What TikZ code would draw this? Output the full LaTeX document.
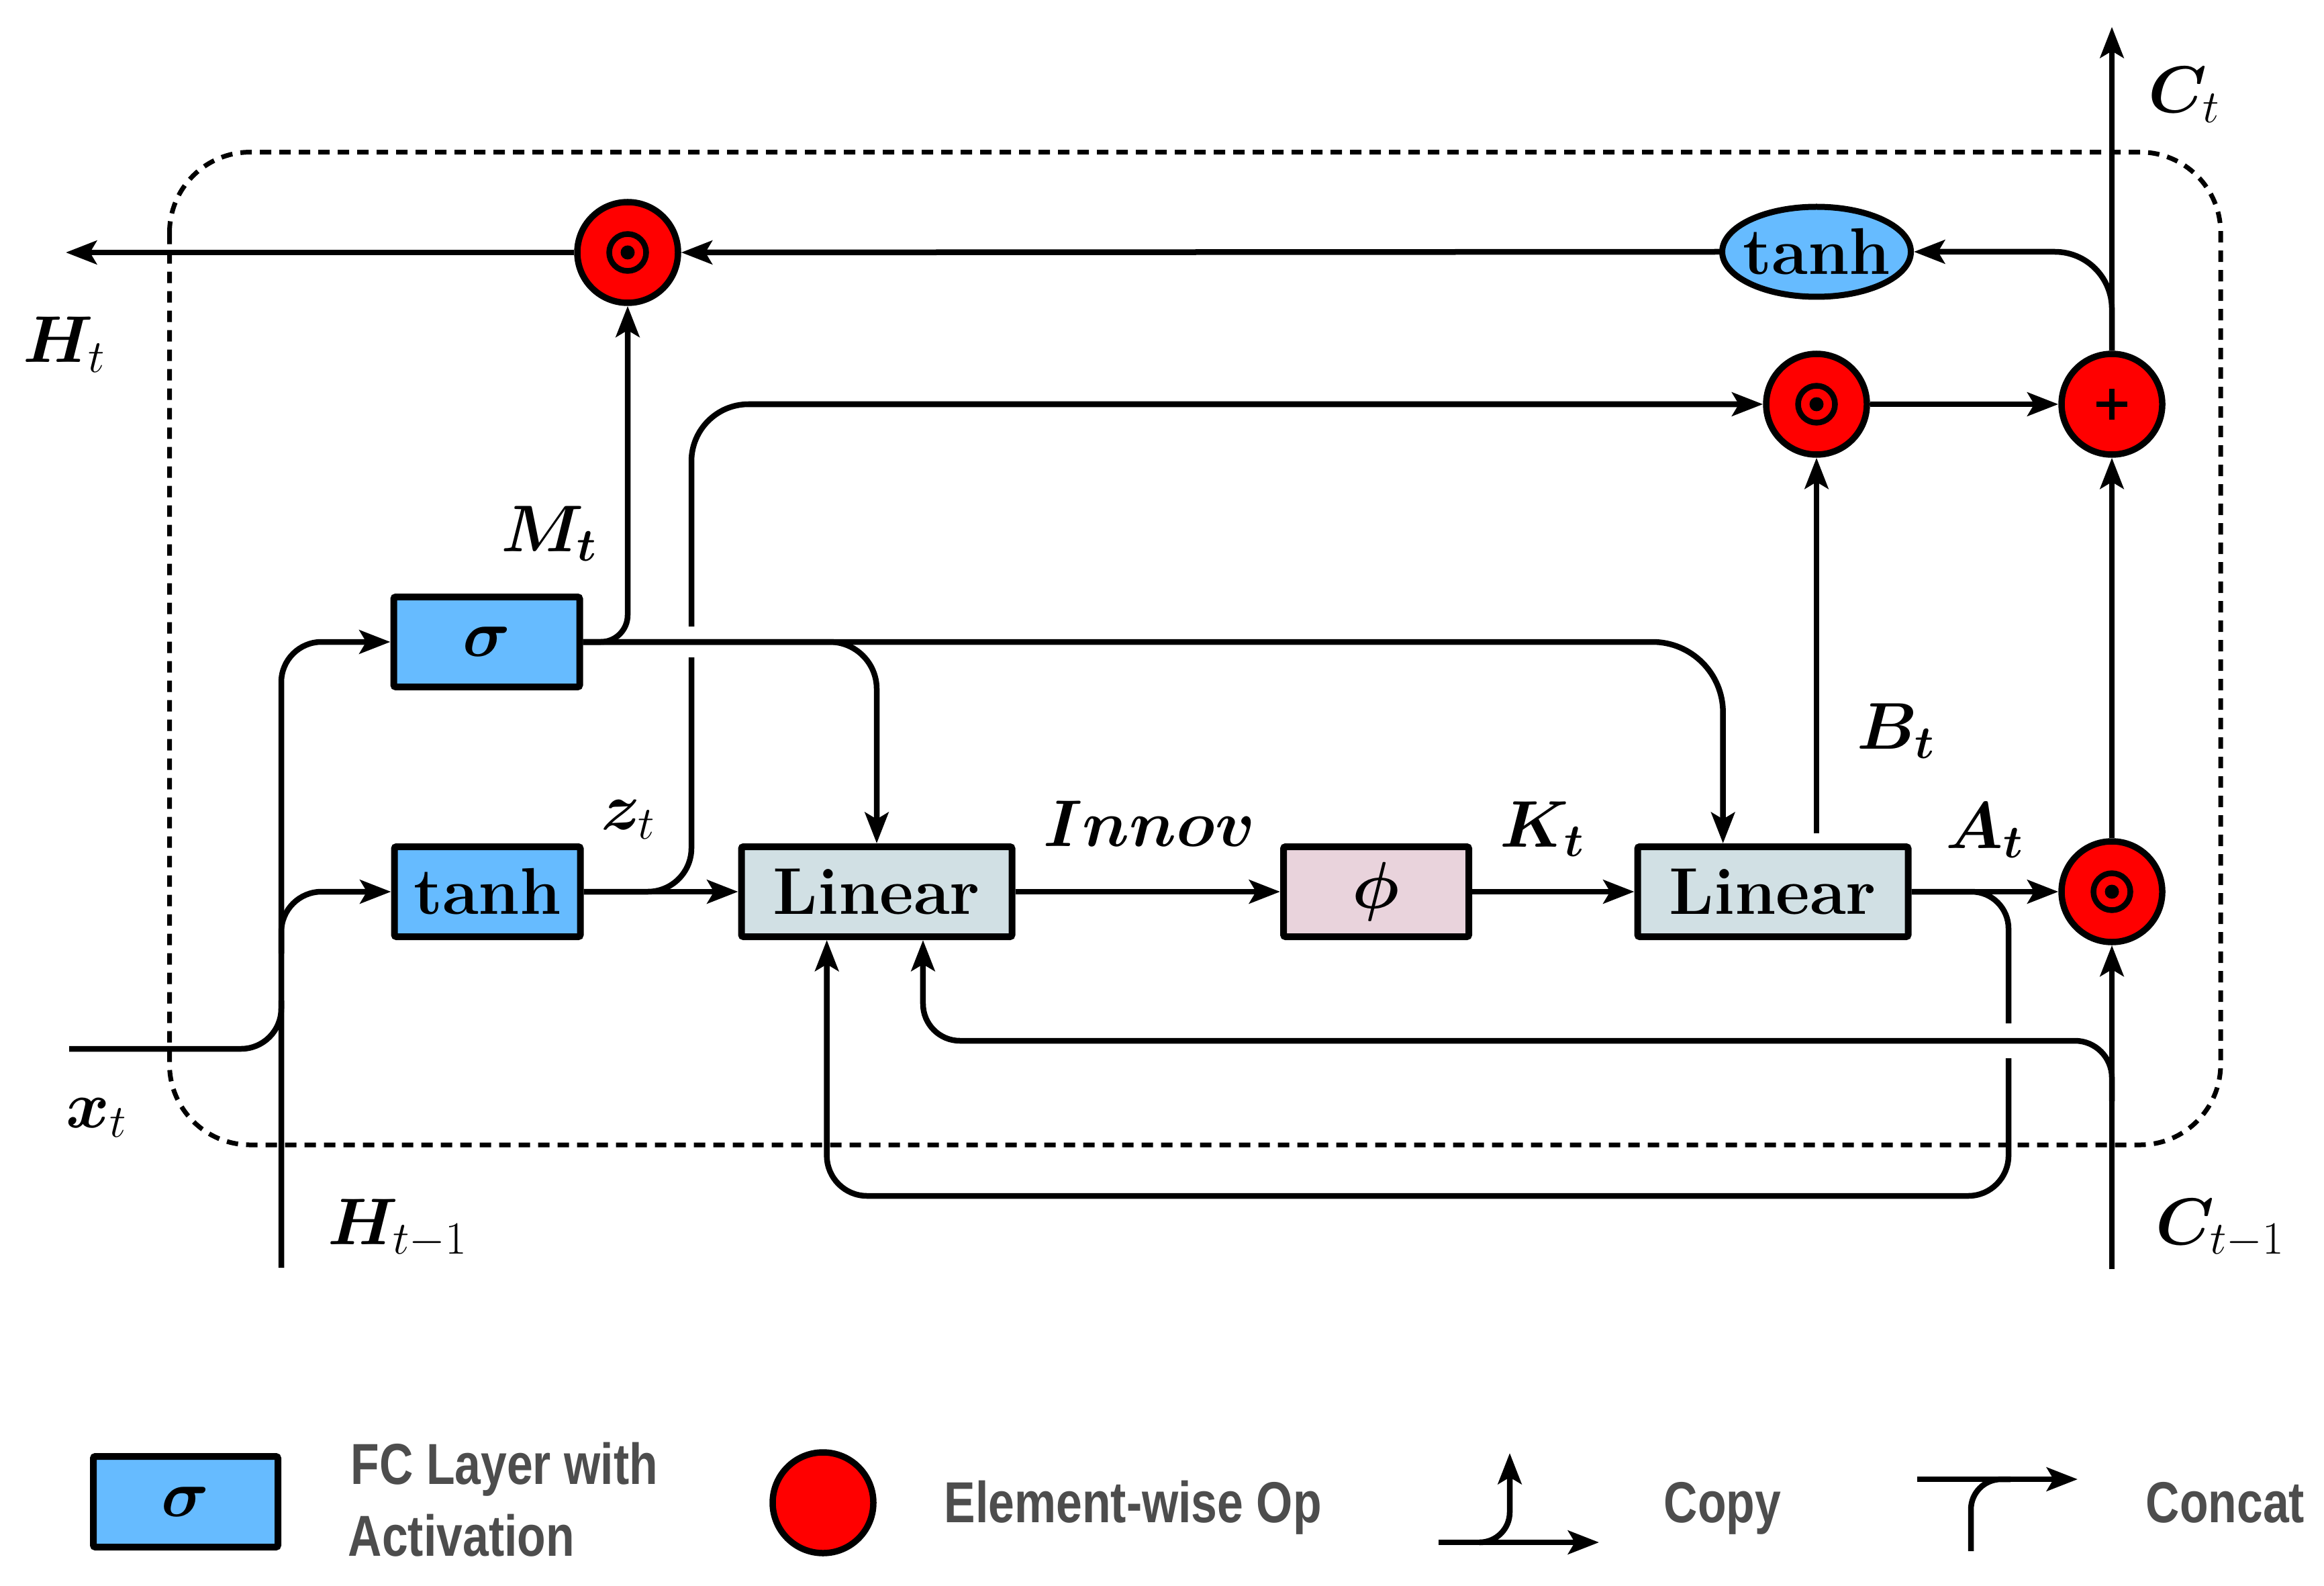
\RequirePackage{fix-cm}
\documentclass[tikz,border=0pt]{standalone}
\usepackage{fontspec}
\usepackage{bm}
\usetikzlibrary{arrows.meta,shapes.geometric,calc}
\newfontfamily\legfam[FakeStretch=0.81]{Liberation Sans}
\newcommand\mainfs{\fontsize{28}{34}\selectfont}
\newcommand\legfont{\legfam\bfseries\fontsize{24.5}{29}\selectfont}
\definecolor{fcblue}{RGB}{102,187,255}
\definecolor{lingray}{RGB}{209,224,228}
\definecolor{phipink}{RGB}{233,211,220}
\definecolor{leggray}{RGB}{77,77,77}
\tikzset{
  conn/.style={line width=0.085cm},
  arr/.style={conn,-{Stealth[length=0.46cm,width=0.35cm,inset=0.1cm]}},
  boxbase/.style={draw,line width=0.1cm,rounded corners=0.03cm,inner sep=0pt,
    minimum height=1.34cm,font=\mainfs},
  fcbox/.style={boxbase,fill=fcblue,minimum width=2.77cm},
  linbox/.style={boxbase,fill=lingray,minimum width=4.03cm},
  phibox/.style={boxbase,fill=phipink,minimum width=2.76cm},
  opcirc/.style={circle,draw,line width=0.095cm,fill=red,minimum size=1.5cm,inner sep=0pt},
  lbl/.style={font=\mainfs,inner sep=0pt,anchor=base west},
  leg/.style={font=\legfont,text=leggray,inner sep=0pt,anchor=base west},
  cellbox/.style={line width=0.07cm,dash pattern=on 0.17cm off 0.12cm,rounded corners=1.2cm},
}
\begin{document}
\begin{tikzpicture}[x=1cm,y=-1cm]
\useasboundingbox (0,0) rectangle (34.62,23.62);
% cell boundary
\draw[cellbox] (2.525,2.266) rectangle (33.08,17.05);

% nodes
\node[fcbox] (sigma) at (7.25,9.56) {$\bm{\sigma}$};
\node[fcbox] (tanhb) at (7.26,13.28) {\textbf{tanh}};
\node[linbox] (lin1) at (13.06,13.28) {\textbf{Linear}};
\node[phibox] (phi) at (20.50,13.28) {$\bm{\phi}$};
\node[linbox] (lin2) at (26.41,13.28) {\textbf{Linear}};
\node[opcirc] (odotT) at (9.35,3.76) {};
\node[ellipse,draw,line width=0.09cm,fill=fcblue,minimum width=2.81cm,minimum height=1.34cm,inner sep=0pt,font=\mainfs]
  (tanhE) at (27.06,3.75) {\makebox[0pt]{\textbf{tanh}}};
\node[opcirc] (odotM) at (27.06,6.02) {};
\node[opcirc] (plus) at (31.46,6.02) {};
\node[opcirc] (odotB) at (31.46,13.28) {};
\foreach \n in {odotT,odotM,odotB}{
  \draw[line width=0.085cm] (\n) circle (0.275cm);
  \fill (\n) circle (0.105cm);
}
\draw[line width=0.075cm] ($(plus)+(-0.23,0)$) -- ($(plus)+(0.23,0)$);
\draw[line width=0.075cm] ($(plus)+(0,-0.23)$) -- ($(plus)+(0,0.23)$);

% helper coordinates
\coordinate (Hout) at (0.98,3.76);
\coordinate (Ct) at (31.46,0.40);
\coordinate (Cin) at (31.46,18.90);
\coordinate (Hin) at (4.19,18.88);
\coordinate (hb) at (4.19,14.2);
\coordinate (xin) at (1.03,15.62);
\coordinate (xg) at (4.19,14.9);
\coordinate (zg1) at (10.30,9.79);
\coordinate (zg2) at (10.30,9.33);
\coordinate (ag1) at (29.92,15.24);
\coordinate (ag2) at (29.92,15.76);
\coordinate (ag3) at (29.92,17.81);
\coordinate (cb1) at (31.46,16.4);
\coordinate (cb2) at (31.46,15.50);
\coordinate (l1b1) at ($(lin1.south west)!0.32!(lin1.south east)$);
\coordinate (l1b2) at ($(lin1.south west)!0.667!(lin1.south east)$);
\coordinate (l2t) at ($(lin2.north west)!0.32!(lin2.north east)$);
\coordinate (l2o) at (lin2.north -| odotM);

% connectors: output side
\draw[arr] (odotT.west) -- (Hout);
\draw[arr] (tanhE.west) -- (odotT.east);
\draw[arr,rounded corners=0.85cm] (plus.north) |- (tanhE.east);
\draw[arr] (plus.north) -- (Ct);
\draw[arr] (odotM.east) -- (plus.west);
\draw[arr] (odotB.north) -- (plus.south);
\draw[arr,shorten <=0.15cm] (l2o) -- (odotM.south);

% M_t
\draw[arr,rounded corners=0.4cm] (sigma.east) -| (odotT.south);
\draw[arr,rounded corners=0.7cm] (sigma.east) -| (lin1.north);
\draw[arr,rounded corners=1.05cm] (sigma.east) -| (l2t);

% z_t
\draw[arr] (tanhb.east) -- (lin1.west);
\draw[conn,rounded corners=0.65cm] (tanhb.east) -| (zg1);
\draw[arr,rounded corners=0.85cm] (zg2) |- (odotM.west);

% main row
\draw[arr] (lin1.east) -- (phi.west);
\draw[arr] (phi.east) -- (lin2.west);
\draw[arr] (lin2.east) -- (odotB.west);

% A_t loop back
\draw[conn,rounded corners=0.55cm] (lin2.east) -| (ag1);
\draw[arr,rounded corners=0.6cm] (ag2) -- (ag3) -| (l1b1);

% C_{t-1}
\draw[arr] (Cin) -- (odotB.south);
\draw[arr,rounded corners=0.55cm] (cb1) -- (cb2) -| (l1b2);

% inputs (concat)
\draw[arr,rounded corners=0.6cm] (Hin) |- (sigma.west);
\draw[arr,rounded corners=0.6cm] (hb) |- (tanhb.west);
\draw[conn,rounded corners=0.6cm] (xin) -| (xg);

% labels
\node[lbl] (lHt) at (0.34,5.40) {$\bm{H}_t$};
\node[lbl] (lMt) at (7.46,8.21) {$\bm{M_t}$};
\node[lbl] (lCt) at (32.00,1.68) {$\bm{C}_t$};
\node[lbl] (lzt) at (8.95,12.35) {$\bm{z}_t$};
\node[lbl] (lxt) at (0.98,16.79) {$\bm{x}_t$};
\node[lbl] (lHt1) at (4.88,18.53) {$\bm{H}_{t-1}$};
\node[lbl] (lInnov) at (15.54,12.60) {$\bm{Innov}$};
\node[lbl] (lKt) at (22.34,12.61) {$\bm{K_t}$};
\node[lbl] (lAt) at (28.98,12.63) {$\bm{A_t}$};
\node[lbl] (lBt) at (27.66,11.15) {$\bm{B_t}$};
\node[lbl] (lCt1) at (32.11,18.53) {$\bm{C}_{t-1}$};

% legend
\node[fcbox,minimum width=2.75cm,minimum height=1.35cm] (legbox) at (2.765,22.365) {$\bm{\sigma}$};
\node[leg] (legfc1) at (5.22,22.10) {FC Layer with};
\node[leg] (legfc2) at (5.18,23.17) {Activation};
\node[opcirc] (legop) at (12.26,22.38) {};
\node[leg] (legew) at (14.06,22.67) {Element-wise Op};
\coordinate (cpa) at (21.43,22.97);
\coordinate (cpb) at (23.82,22.97);
\coordinate (cpc) at (22.04,22.97);
\coordinate (cpd) at (22.49,21.64);
\draw[arr] (cpa) -- (cpb);
\draw[arr,rounded corners=0.45cm] (cpc) -| (cpd);
\node[leg] (legcopy) at (24.78,22.67) {Copy};
\coordinate (cca) at (28.56,22.03);
\coordinate (ccb) at (30.95,22.03);
\coordinate (ccc) at (29.36,23.10);
\coordinate (ccd) at (29.95,22.03);
\draw[arr] (cca) -- (ccb);
\draw[conn,rounded corners=0.45cm] (ccc) |- (ccd);
\node[leg] (legconcat) at (31.96,22.67) {Concat};
\end{tikzpicture}
\end{document}
